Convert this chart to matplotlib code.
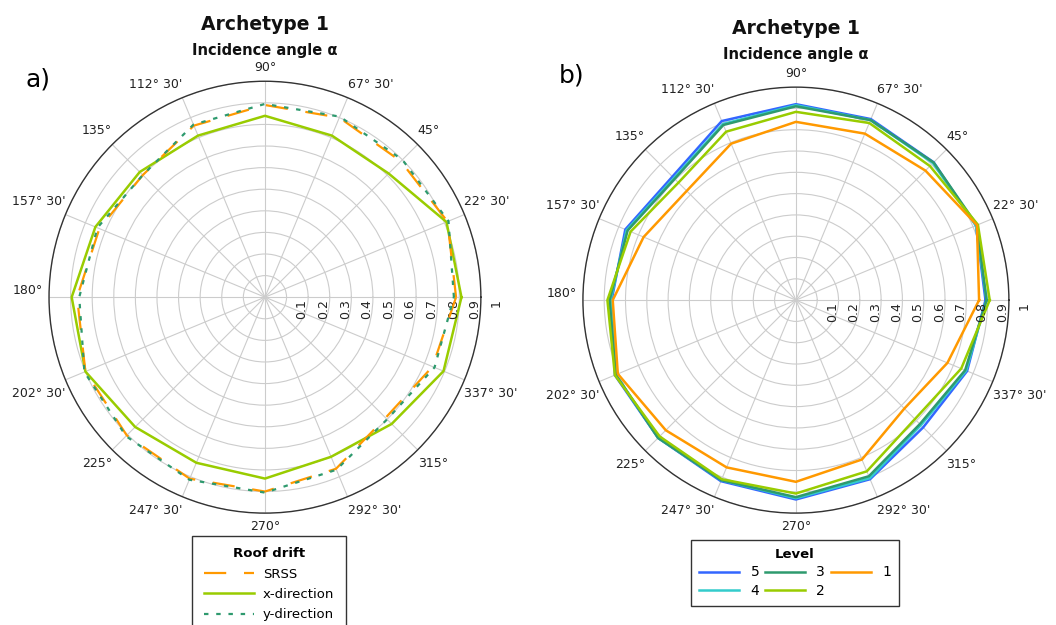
import numpy as np
import matplotlib.pyplot as plt

# angles of the incidence directions (degrees)
angles = np.arange(0, 360, 22.5)
angle_labels = ["", "22° 30'", "45°", "67° 30'", "90°", "112° 30'", "135°", "157° 30'",
                "180°", "202° 30'", "225°", "247° 30'", "270°", "292° 30'", "315°", "337° 30'"]
r_ticks = [0.1, 0.2, 0.3, 0.4, 0.5, 0.6, 0.7, 0.8, 0.9, 1.0]
r_tick_labels = ["0.1", "0.2", "0.3", "0.4", "0.5", "0.6", "0.7", "0.8", "0.9", "1"]

# a) roof drift
srss = [0.885, 0.915, 0.89, 0.90, 0.89, 0.86, 0.80, 0.83, 0.87, 0.90, 0.905, 0.91, 0.90, 0.86, 0.79, 0.84]
x_dir = [0.91, 0.91, 0.81, 0.81, 0.84, 0.81, 0.82, 0.85, 0.895, 0.90, 0.85, 0.83, 0.84, 0.80, 0.83, 0.895]
y_dir = [0.875, 0.92, 0.90, 0.905, 0.895, 0.865, 0.80, 0.84, 0.86, 0.905, 0.91, 0.915, 0.905, 0.865, 0.80, 0.85]

# b) levels
level5 = [0.89, 0.915, 0.915, 0.92, 0.92, 0.91, 0.82, 0.867, 0.865, 0.92, 0.915, 0.92, 0.936, 0.91, 0.845, 0.87]
level4 = [0.895, 0.915, 0.91, 0.915, 0.915, 0.895, 0.81, 0.86, 0.87, 0.915, 0.915, 0.915, 0.93, 0.905, 0.83, 0.865]
level3 = [0.895, 0.92, 0.914, 0.915, 0.91, 0.89, 0.805, 0.855, 0.875, 0.915, 0.915, 0.915, 0.925, 0.895, 0.823, 0.86]
level2 = [0.91, 0.925, 0.89, 0.90, 0.884, 0.856, 0.78, 0.84, 0.885, 0.92, 0.905, 0.91, 0.908, 0.87, 0.79, 0.84]
level1 = [0.86, 0.92, 0.86, 0.846, 0.837, 0.795, 0.725, 0.774, 0.86, 0.905, 0.864, 0.85, 0.853, 0.81, 0.72, 0.77]

c_orange = '#ff9900'
c_green = '#99cc00'
c_teal = '#2e9a6e'
c_blue = '#3366ff'
c_cyan = '#33cccc'
txt = '#222222'


def closed(vals):
    th = np.deg2rad(np.append(angles, angles[0]))
    return th, np.append(vals, vals[0])


def setup(ax):
    ax.set_ylim(0, 1)
    ax.set_xticks(np.deg2rad(angles))
    ax.set_xticklabels([])
    ax.set_yticks(r_ticks)
    ax.set_yticklabels([])
    ax.grid(True, color='#cccccc', lw=0.8)
    ax.spines['polar'].set_color('#333333')
    ax.spines['polar'].set_linewidth(1.0)
    ax.tick_params(length=0)
    for a, lab in zip(angles, angle_labels):
        if not lab:
            continue
        c, s = np.cos(np.deg2rad(a)), np.sin(np.deg2rad(a))
        ha = 'left' if c > 0.01 else ('right' if c < -0.01 else 'center')
        va = 'bottom' if s > 0.01 else ('top' if s < -0.01 else 'center')
        dx = -6 if abs(s) < 0.01 else 0
        dy = 7 * np.sign(s)
        ax.annotate(lab, xy=(np.deg2rad(a), 1.0), xytext=(dx, dy), textcoords='offset pixels',
                    ha=ha, va=va, fontsize=9, color=txt, annotation_clip=False)
    for r, lab in zip(r_ticks, r_tick_labels):
        ax.annotate(lab, xy=(0, r), xytext=(9, -2), textcoords='offset pixels',
                    ha='left', va='top', rotation=90, fontsize=9, color=txt,
                    annotation_clip=False)


fig = plt.figure(figsize=(10.56, 6.25), dpi=100)
ax1 = fig.add_axes([0.0464, 0.179, 0.409, 0.691], projection='polar')
ax2 = fig.add_axes([0.552, 0.179, 0.4034, 0.6816], projection='polar')
setup(ax1)
setup(ax2)

ax1.plot(*closed(srss), color=c_orange, lw=1.6, dashes=(10, 8), label='SRSS', zorder=3)
ax1.plot(*closed(x_dir), color=c_green, lw=1.8, label='x-direction', zorder=2)
ax1.plot(*closed(y_dir), color=c_teal, lw=1.6, dashes=(2, 3.5), label='y-direction', zorder=4)

ax2.plot(*closed(level5), color=c_blue, lw=1.8, label='5')
ax2.plot(*closed(level4), color=c_cyan, lw=1.8, label='4')
ax2.plot(*closed(level3), color=c_teal, lw=1.8, label='3')
ax2.plot(*closed(level2), color=c_green, lw=1.8, label='2')
ax2.plot(*closed(level1), color=c_orange, lw=1.8, label='1')

for cx, cy1, cy2 in [(265 / 1056, 1 - 24 / 625, 1 - 50 / 625), (796 / 1056, 1 - 28 / 625, 1 - 55 / 625)]:
    fig.text(cx, cy1, 'Archetype 1', ha='center', va='center', fontsize=13.5, fontweight='bold', color='#111111')
    fig.text(cx, cy2, 'Incidence angle α', ha='center', va='center', fontsize=10.5, fontweight='bold', color='#111111')

fig.text(38 / 1056, 1 - 80 / 625, 'a)', ha='center', va='center', fontsize=18, color='black')
fig.text(572 / 1056, 1 - 76 / 625, 'b)', ha='center', va='center', fontsize=18, color='black')

leg1 = fig.legend(handles=ax1.get_lines(), title='Roof drift', loc='upper center',
                  bbox_to_anchor=(269 / 1056, 1 - 529 / 625), fontsize=9.5,
                  title_fontproperties={'weight': 'bold', 'size': 9.5},
                  handlelength=3.8, handletextpad=0.7, labelspacing=0.55, fancybox=False,
                  edgecolor='#333333', framealpha=1, borderpad=0.9)
leg1.get_frame().set_linewidth(1.0)

leg2 = fig.legend(handles=ax2.get_lines(), title='Level', loc='upper center', ncol=3,
                  bbox_to_anchor=(795 / 1056, 1 - 533 / 625), fontsize=10,
                  title_fontproperties={'weight': 'bold', 'size': 9.5},
                  handlelength=2.9, handletextpad=0.8, labelspacing=0.3, columnspacing=0.4,
                  fancybox=False, edgecolor='#333333', framealpha=1, borderpad=0.6)
leg2.get_frame().set_linewidth(1.0)

fig.savefig('out.png', dpi=100)
